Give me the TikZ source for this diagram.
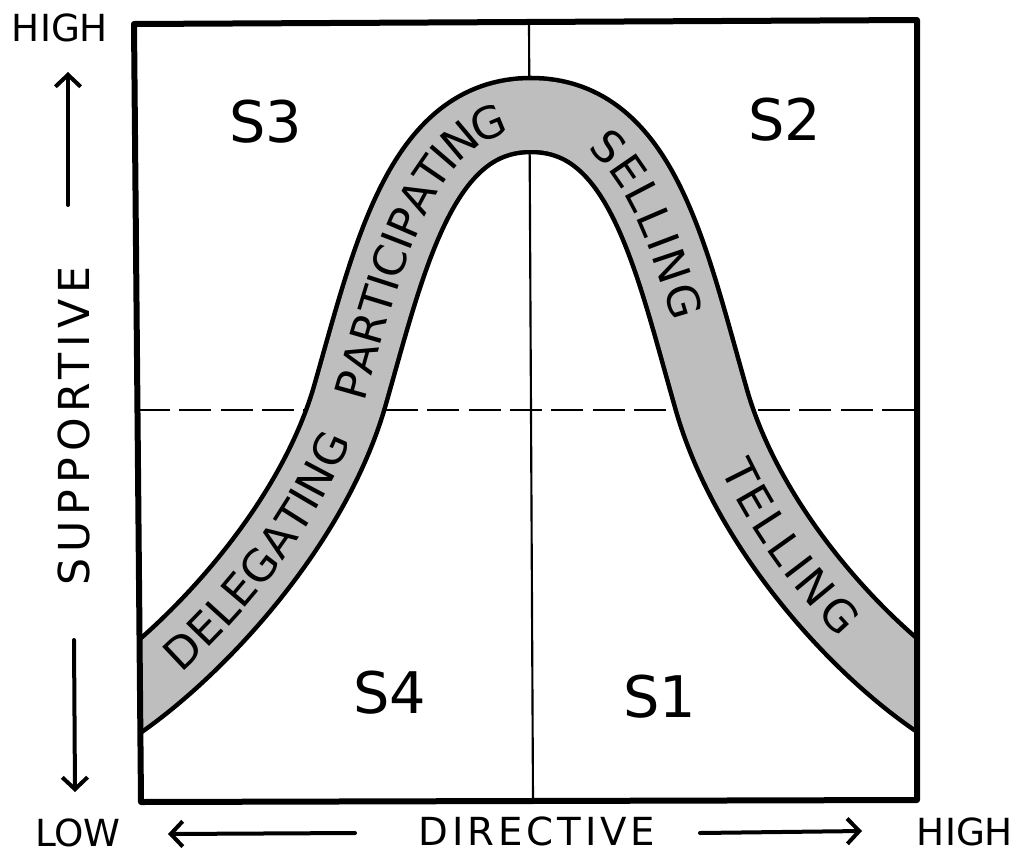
\documentclass[tikz,border=0pt]{standalone}
\usepackage{fontspec}
\setmainfont{DejaVu Sans}
\usetikzlibrary{decorations.text,arrows.meta}
\definecolor{bandgray}{RGB}{190,190,190}
\newcommand\bandfnt{\fontsize{33}{35}\selectfont\fontdimen2\font=2.4pt\relax}
\begin{document}
\begin{tikzpicture}[x=0.75pt,y=-0.75pt,
  axislabel/.style={font=\fontsize{28}{30}\selectfont, inner sep=0pt},
  quadlabel/.style={font=\fontsize{43}{45}\selectfont, inner sep=0pt},
  axisarrow/.style={line width=3pt, line cap=round, -{Straight Barb[length=9pt,width=19pt]}},
  boxline/.style={line width=4.5pt, line join=round},
  midline/.style={line width=1.6pt},
  dashline/.style={line width=1.8pt, dash pattern=on 24pt off 7pt},
  bandtext/.style 2 args={postaction={decorate, decoration={text along path,
      text={|\bandfnt|#1}, text align={left indent=#2}, raise=-12pt}}}
]
\useasboundingbox (0,0) rectangle (1022,854);
% box corners
\coordinate (tl) at (134,24);
\coordinate (tr) at (917,20);
\coordinate (br) at (917,800);
\coordinate (bl) at (141,802);
% quadrant lines
\coordinate (vt) at (529,24);
\coordinate (vb) at (533,800);
\coordinate (hl) at (138,410);
\coordinate (hr) at (917,410);
\draw[midline] (vt) -- (vb);
\draw[dashline] (hl) -- (hr);
% band centre line points
\coordinate (c0) at (100,715);
\coordinate (c1) at (350,395);
\coordinate (c2) at (531,115);
\coordinate (c3) at (710,395);
\coordinate (c4) at (960,715);
% band
\begin{scope}
\clip (tl) -- (tr) -- (br) -- (bl) -- cycle;
\draw[line width=58.9pt, black, postaction={draw=bandgray, line width=52.1pt}]
  (c0) .. controls (180,667) and (310,535) .. (c1)
       .. controls (390,255) and (421,115) .. (c2)
       .. controls (641,115) and (670,255) .. (c3)
       .. controls (748,535) and (875,667) .. (c4);
\end{scope}
% box
\draw[boxline] (tl) -- (tr) -- (br) -- (bl) -- cycle;
% band labels
\path[bandtext={DELEGATING}{66pt}, bandtext={PARTICIPATING}{308pt},
      bandtext={S E L L I N G}{633pt}, bandtext={T E L L I N G}{900pt}]
  (c0) .. controls (180,667) and (310,535) .. (c1)
       .. controls (390,255) and (421,115) .. (c2)
       .. controls (641,115) and (670,255) .. (c3)
       .. controls (748,535) and (875,667) .. (c4);
% quadrant labels
\node[quadlabel] (s3) at (266,122) {S3};
\node[quadlabel] (s2) at (785,120) {S2};
\node[quadlabel] (s4) at (390,693) {S4};
\node[quadlabel] (s1) at (660,697) {S1};
% axis labels
\node[axislabel] (hightop) at (60,28) {HIGH};
\node[axislabel, rotate=90, font=\fontsize{32}{34}\selectfont\addfontfeatures{LetterSpace=14}] (supp) at (74,426) {SUPPORTIVE};
\node[axislabel] (low) at (78,833) {LOW};
\node[axislabel, font=\fontsize{29}{31}\selectfont\addfontfeatures{LetterSpace=10}] (dir) at (537,831) {DIRECTIVE};
\node[axislabel] (highbot) at (965,832) {HIGH};
% axis arrows
\coordinate (ua1) at (68,205); \coordinate (ua2) at (68,72);
\coordinate (da1) at (74,640); \coordinate (da2) at (75,792);
\coordinate (la1) at (355,833); \coordinate (la2) at (168,834);
\coordinate (ra1) at (700,833); \coordinate (ra2) at (862,831);
\draw[axisarrow] (ua1) -- (ua2);
\draw[axisarrow] (da1) -- (da2);
\draw[axisarrow] (la1) -- (la2);
\draw[axisarrow] (ra1) -- (ra2);
\end{tikzpicture}
\end{document}
